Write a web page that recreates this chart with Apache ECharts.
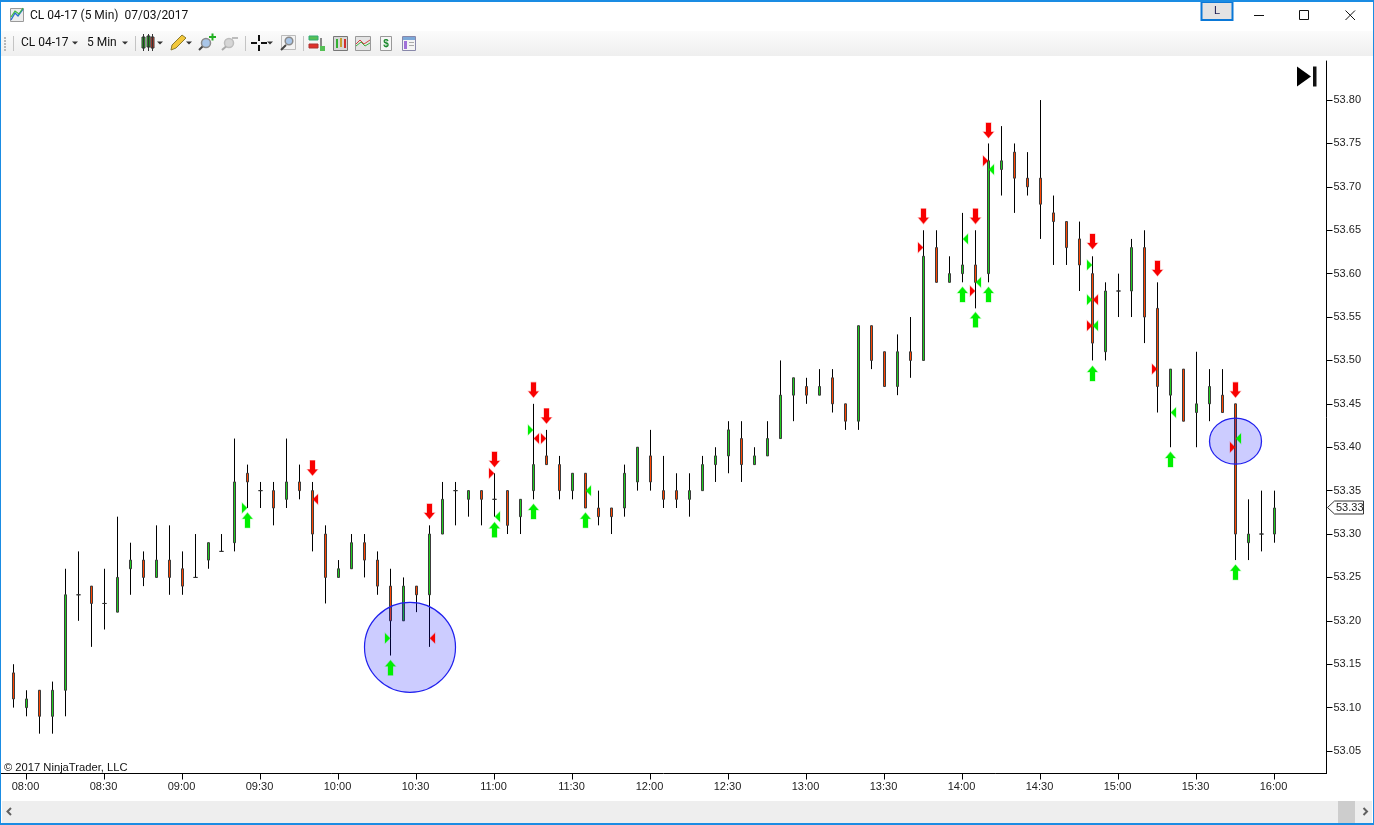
<!DOCTYPE html>
<html><head><meta charset="utf-8">
<style>html,body{margin:0;padding:0;background:#fff}#c{width:1374px;height:825px}</style>
<script src="https://cdn.jsdelivr.net/npm/echarts@6/dist/echarts.min.js"></script>
</head><body><div id="c"></div>
<script>
const categories = ['07:50','07:55','08:00','08:05','08:10','08:15','08:20','08:25','08:30','08:35','08:40','08:45','08:50','08:55','09:00','09:05','09:10','09:15','09:20','09:25','09:30','09:35','09:40','09:45','09:50','09:55','10:00','10:05','10:10','10:15','10:20','10:25','10:30','10:35','10:40','10:45','10:50','10:55','11:00','11:05','11:10','11:15','11:20','11:25','11:30','11:35','11:40','11:45','11:50','11:55','12:00','12:05','12:10','12:15','12:20','12:25','12:30','12:35','12:40','12:45','12:50','12:55','13:00','13:05','13:10','13:15','13:20','13:25','13:30','13:35','13:40','13:45','13:50','13:55','14:00','14:05','14:10','14:15','14:20','14:25','14:30','14:35','14:40','14:45','14:50','14:55','15:00','15:05','15:10','15:15','15:20','15:25','15:30','15:35','15:40','15:45','15:50','15:55','16:00','16:05','16:10','16:15','16:20'];
const timeLabels = ['08:00','08:30','09:00','09:30','10:00','10:30','11:00','11:30','12:00','12:30','13:00','13:30','14:00','14:30','15:00','15:30','16:00'];
const priceTicks = [53.05,53.10,53.15,53.20,53.25,53.30,53.35,53.40,53.45,53.50,53.55,53.60,53.65,53.70,53.75,53.80];
// bars from 07:55 to 16:00
const opens = [53.14,53.10,53.12,53.09,53.12,53.23,53.24,53.22,53.21,53.26,53.27,53.25,53.27,53.26,53.25,53.27,53.28,53.29,53.37,53.35,53.35,53.34,53.36,53.35,53.30,53.25,53.26,53.29,53.27,53.24,53.20,53.24,53.23,53.30,53.35,53.34,53.35,53.34,53.35,53.32,53.35,53.39,53.38,53.35,53.37,53.33,53.33,53.33,53.36,53.39,53.35,53.35,53.34,53.35,53.38,53.39,53.41,53.38,53.39,53.41,53.46,53.47,53.46,53.48,53.45,53.43,53.54,53.51,53.47,53.51,53.50,53.63,53.59,53.60,53.61,53.60,53.72,53.74,53.71,53.71,53.67,53.66,53.64,53.60,53.51,53.58,53.58,53.63,53.56,53.46,53.49,53.44,53.45,53.46,53.45,53.29,53.30,53.30];
const closes = [53.11,53.11,53.09,53.12,53.23,53.23,53.22,53.22,53.25,53.27,53.25,53.27,53.25,53.24,53.25,53.29,53.28,53.36,53.36,53.35,53.33,53.36,53.35,53.30,53.25,53.26,53.29,53.27,53.24,53.20,53.24,53.23,53.30,53.34,53.35,53.35,53.34,53.34,53.31,53.34,53.38,53.38,53.35,53.37,53.33,53.32,53.32,53.37,53.40,53.36,53.34,53.34,53.35,53.38,53.39,53.42,53.38,53.39,53.41,53.46,53.48,53.46,53.47,53.45,53.43,53.54,53.50,53.47,53.51,53.50,53.62,53.59,53.60,53.61,53.59,53.73,53.73,53.71,53.70,53.68,53.66,53.63,53.61,53.52,53.58,53.58,53.63,53.55,53.47,53.49,53.43,53.45,53.47,53.44,53.30,53.30,53.30,53.33];
const highs = [53.15,53.12,53.12,53.13,53.26,53.28,53.24,53.26,53.32,53.29,53.28,53.31,53.31,53.28,53.30,53.29,53.30,53.41,53.38,53.36,53.36,53.41,53.38,53.36,53.31,53.27,53.30,53.30,53.28,53.26,53.25,53.24,53.31,53.36,53.36,53.35,53.35,53.37,53.35,53.34,53.45,53.42,53.39,53.37,53.37,53.35,53.33,53.38,53.40,53.42,53.39,53.37,53.37,53.39,53.40,53.43,53.43,53.40,53.43,53.50,53.48,53.48,53.49,53.49,53.45,53.54,53.54,53.51,53.53,53.55,53.65,53.65,53.62,53.67,53.65,53.75,53.77,53.75,53.74,53.80,53.69,53.66,53.66,53.62,53.59,53.60,53.64,53.65,53.59,53.49,53.49,53.51,53.49,53.49,53.45,53.34,53.35,53.35];
const lows = [53.10,53.09,53.07,53.07,53.09,53.20,53.17,53.19,53.21,53.23,53.24,53.25,53.23,53.23,53.25,53.26,53.28,53.28,53.33,53.33,53.31,53.33,53.34,53.28,53.22,53.25,53.26,53.25,53.23,53.16,53.20,53.21,53.17,53.30,53.31,53.32,53.31,53.32,53.30,53.30,53.34,53.38,53.34,53.34,53.33,53.31,53.30,53.32,53.35,53.35,53.33,53.33,53.32,53.35,53.36,53.37,53.36,53.38,53.39,53.41,53.43,53.45,53.46,53.44,53.42,53.42,53.49,53.47,53.46,53.48,53.50,53.59,53.59,53.59,53.56,53.59,53.69,53.67,53.69,53.64,53.61,53.61,53.58,53.50,53.50,53.55,53.55,53.52,53.44,53.40,53.43,53.40,53.43,53.44,53.27,53.27,53.28,53.29];
const arrowsDown = [['09:50',53.376],['10:35',53.326],['11:00',53.386],['11:15',53.466],['11:20',53.436],['13:45',53.666],['14:05',53.666],['14:10',53.765],['14:50',53.637],['15:15',53.606],['15:45',53.466]];
const arrowsUp = [['09:25',53.316],['10:20',53.146],['11:00',53.305],['11:15',53.326],['11:35',53.316],['14:00',53.576],['14:05',53.547],['14:10',53.576],['14:50',53.485],['15:20',53.386],['15:45',53.256]];
const greenRight = [['09:25',53.33],['10:20',53.18],['11:15',53.42],['14:50',53.61],['14:50',53.57]];
const greenLeft = [['11:00',53.32],['11:35',53.35],['14:00',53.64],['14:05',53.59],['14:10',53.72],['14:50',53.54],['15:20',53.44],['15:45',53.41]];
const redRight = [['11:00',53.37],['11:20',53.41],['13:45',53.63],['14:05',53.58],['14:10',53.73],['14:50',53.54],['15:15',53.49],['15:45',53.40]];
const redLeft = [['09:50',53.34],['10:35',53.18],['11:15',53.41],['14:50',53.57]];
const ellipses = [['10:25',53.1695,[91,90],[6.5,0]],['15:45',53.407,[52,46],[0,0]]];
const lastPrice = 53.33;

const GREEN = '#20CC20', ORANGE = '#FF4500', EDGE = '#3c3c3c';
const blank = ['-','-','-','-'];
const wickRows = [blank].concat(opens.map((o,i)=>[o,closes[i],lows[i],highs[i]]));
const bodyRows = [blank].concat(opens.map((o,i)=> o===closes[i] ? blank.slice() : [o,closes[i],Math.min(o,closes[i]),Math.max(o,closes[i])]));
const dojiRows = [blank].concat(opens.map((o,i)=> o===closes[i] ? [o,o,o,o] : blank.slice()));

const TRI_R = 'path://M0 0L10 5L0 10Z', TRI_L = 'path://M10 0L0 5L10 10Z';
const ARR_U = 'path://M5 0L10 6L7.5 6L7.5 15L2.5 15L2.5 6L0 6Z', ARR_D = 'path://M2.5 0L7.5 0L7.5 9L10 9L5 15L0 9L2.5 9Z';
const marks = (name,data,symbol,size,off,color,glow)=>({name,type:'scatter',data,symbol,symbolSize:size,symbolOffset:off,z:6,silent:true,clip:false,itemStyle:{color,opacity:1,borderColor:glow,borderWidth:1}});
const GR='#00F000', RD='#F80000', GG='rgba(0,240,0,0.35)', RG='rgba(248,0,0,0.35)';

const el = [];
const R=(x,y,w,h,fill,stroke,lw)=>el.push({type:'rect',silent:true,z:50,shape:{x,y,width:w,height:h},style:{fill:fill||'none',stroke:stroke||null,lineWidth:lw||1}});
const P=(pts,fill,stroke,lw)=>el.push({type:'polygon',silent:true,z:50,shape:{points:pts},style:{fill:fill||'none',stroke:stroke||null,lineWidth:lw||1}});
const L=(pts,stroke,lw)=>el.push({type:'polyline',silent:true,z:50,shape:{points:pts},style:{fill:'none',stroke,lineWidth:lw||1}});
const T=(x,y,text,font,fill,align)=>el.push({type:'text',silent:true,z:51,x,y,style:{text,font,fill:fill||'#111',align:align||'left',verticalAlign:'middle'}});
const C=(cx,cy,r,fill,stroke)=>el.push({type:'circle',silent:true,z:50,shape:{cx,cy,r},style:{fill,stroke,lineWidth:1.5}});
const down=(x,y,c)=>P([[x-3,y-1.5],[x+3,y-1.5],[x,y+1.5]],c||'#333');
// toolbar
el.push({type:'rect',silent:true,z:49,shape:{x:1,y:31,width:1372,height:25},style:{fill:{type:'linear',x:0,y:0,x2:0,y2:1,colorStops:[{offset:0,color:'#FBFBFB'},{offset:1,color:'#EFEFEF'}]}}});
for(const y of [37,40,43,46,49]) R(4,y,2,2,'#B8B8B8');
for(const x of [13,135,245,303]) R(x,36,1,15,'#C4C4C4');
T(30,15.5,'CL 04-17 (5 Min)  07/03/2017','12px Roboto','#111');
T(21,43,'CL 04-17','12px Roboto','#111'); down(75,43);
T(87,43,'5 Min','12px Roboto','#111'); down(125,43);
// title icon
R(10.5,8.5,13,13,'#EDEDED','#9A9A9A'); L([[11,20],[15,13],[18,16],[23,9]],'#2B6FD0',1.4); L([[11,17],[15,11],[19,14],[23,8]],'#3DBB3D',1.2);
// candle tool
R(142,37,3,11,GREEN,'#333');R(147,36,3,11,GREEN,'#333');R(151,37,3,11,'#F0432A','#333');L([[143.5,34],[143.5,51]],'#333');L([[148.5,34],[148.5,51]],'#333');L([[152.5,34],[152.5,51]],'#333');down(160,43);
// pencil
P([[171,50],[172,45],[182,35],[186,38],[176,48]],'#F3C83A','#8A7A30'); down(189,43);
// zoom in/out
C(206,43,4.5,'#A9C6E8','#8A8A8A'); L([[202.5,46.5],[199,50]],'#444',2); R(209,36,7,2,'#22B022');R(211.5,33.5,2,7,'#22B022');
C(229,43,4.5,'#D6D6D6','#BDBDBD'); L([[226,46.5],[222,50]],'#AAA',2); R(232,37,6,2,'#BDBDBD');
// cross
for(const r of [[251,42,6,2],[261,42,6,2],[258,35,2,6],[258,45,2,6]]) R(r[0],r[1],r[2],r[3],'#111'); down(270,43);
// framed magnifier
R(281.5,35.5,14,14,'#F3F3F3','#BBB'); C(289,41,3.8,'#A9C6E8','#8A8A8A'); L([[286,45],[281,50]],'#444',2);
// bars tool
R(309,36,9,4,'#55C055','#3a7');R(309,44,9,4,'#E0302A','#a33');R(320,38,2,13,'#888');R(320,46,5,5,'#55C055');
// chart tools
R(333.5,36.5,14,14,'#D8D8D8','#777');R(336,39,2,9,'#32B032');R(340,38,2,9,'#C8A030');R(344,39,2,9,'#D03030');
R(355.5,36.5,15,14,'#E4E4E4','#999');L([[356,44],[360,40],[364,44],[370,40]],'#D04040');L([[356,46],[361,42],[365,46],[370,43]],'#40B040');
R(380.5,36.5,11,14,'#F6F6F6','#999');T(386,44,'$','bold 10px "Liberation Sans"','#1C8A2E','center');
R(402.5,36.5,13,14,'#F4F4F4','#8888AA');R(403,37,12,3,'#7CA8D8');R(404,41,3,8,'#A070D8');R(409,42,5,1,'#AAA');R(409,45,5,1,'#AAA');
// window buttons
R(1201.5,2,31,18,'#E3E3E3','#0A78D7',2); T(1217,11,'L','11px "Liberation Sans"','#1A1A50','center');
R(1254,15,10,1,'#111'); R(1299.5,10.5,9,9,null,'#111');
L([[1345.5,10.5],[1355,20]],'#111');L([[1355,10.5],[1345.5,20]],'#111');
// end-of-chart glyph
P([[1297,66.5],[1311,76.5],[1297,86.5]],'#000'); R(1313,66.5,3.5,20,'#111');
// copyright
T(4,767.5,'\u00A9 2017 NinjaTrader, LLC','11.2px "Liberation Sans"','#111');
// scrollbar
R(2,801,1370,22,'#EEEEEE'); R(1338,801,17,22,'#CDCDCD');
L([[11,808],[7.5,811.5],[11,815]],'#606060',2); L([[1363.5,808],[1367,811.5],[1363.5,815]],'#606060',2);
// window border
R(0,0,1374,2,'#1A8CE3');R(0,0,1,825,'#1A8CE3');R(1373,0,1,825,'#1A8CE3');R(0,823,1374,2,'#1A8CE3');

const chart = echarts.init(document.getElementById('c'),null,{renderer:'canvas'});
chart.setOption({
  animation:false, backgroundColor:'#fff',
  grid:{left:0.5,width:1326,top:61,bottom:51.5,containLabel:false,outerBoundsMode:'none'},
  xAxis:{type:'category',data:categories,boundaryGap:false,
    axisLine:{lineStyle:{color:'#000',width:1}},
    axisTick:{length:6,lineStyle:{color:'#000'},interval:(i,v)=>timeLabels.includes(v)},
    axisLabel:{interval:(i,v)=>timeLabels.includes(v),color:'#222',fontFamily:'Liberation Sans',fontSize:11,margin:8,padding:[0,2,0,0],hideOverlap:false},
    splitLine:{show:false}},
  yAxis:{type:'value',position:'right',scale:true,min:53.0241,max:53.845,
    axisLine:{show:true,onZero:false,lineStyle:{color:'#000',width:1}},
    axisTick:{show:true,length:6,lineStyle:{color:'#000'},customValues:priceTicks},
    axisLabel:{color:'#222',fontFamily:'Liberation Sans',fontSize:11,margin:7,padding:[2,0,0,0],customValues:priceTicks,formatter:v=>Number(v).toFixed(2)},
    splitLine:{show:false}},
  series:[
    {name:'Wicks',type:'candlestick',data:wickRows,barWidth:1,z:2,clip:false,silent:true,
      itemStyle:{color:'rgba(0,0,0,0)',color0:'rgba(0,0,0,0)',borderColor:'#000',borderColor0:'#000',borderColorDoji:'#000',borderWidth:1}},
    {name:'Bodies',type:'candlestick',data:bodyRows,barWidth:2,z:3,clip:false,silent:true,
      itemStyle:{color:GREEN,color0:ORANGE,borderColor:EDGE,borderColor0:EDGE,borderColorDoji:EDGE,borderWidth:1}},
    {name:'Doji',type:'candlestick',data:dojiRows,barWidth:5,z:3,clip:false,silent:true,
      itemStyle:{color:'#333',color0:'#333',borderColor:'#333',borderColor0:'#333',borderColorDoji:'#333',borderWidth:1}},
    {name:'Ellipses',type:'scatter',z:4,silent:true,clip:false,
      data:ellipses.map(e=>({value:[e[0],e[1]],symbolSize:e[2],symbolOffset:e[3]})),symbol:'circle',
      itemStyle:{color:'rgba(0,0,255,0.2)',borderColor:'#2020EE',borderWidth:1.2,opacity:1}},
    marks('Buy signal',arrowsUp,ARR_U,[10,15],[0,0],GR,GG),
    marks('Sell signal',arrowsDown,ARR_D,[10,15],[0,0],RD,RG),
    marks('Long entry',greenRight,TRI_R,[5,10],[-3,0],GR,GG),
    marks('Long exit',greenLeft,TRI_L,[5,10],[3,0],GR,GG),
    marks('Short entry',redRight,TRI_R,[5,10],[-3,0],RD,RG),
    marks('Short exit',redLeft,TRI_L,[5,10],[3,0],RD,RG)
  ]
});
const py = chart.convertToPixel({yAxisIndex:0},lastPrice);
const fl = Math.round(py)-0.5;
P([[1327.5,fl],[1334.5,fl-6.5],[1363.5,fl-6.5],[1363.5,fl+6.5],[1334.5,fl+6.5]],'#fff','#333');
T(1336,fl+0.5,lastPrice.toFixed(2),'11px "Liberation Sans"','#222');
chart.setOption({graphic:{elements:el}});
</script></body></html>
